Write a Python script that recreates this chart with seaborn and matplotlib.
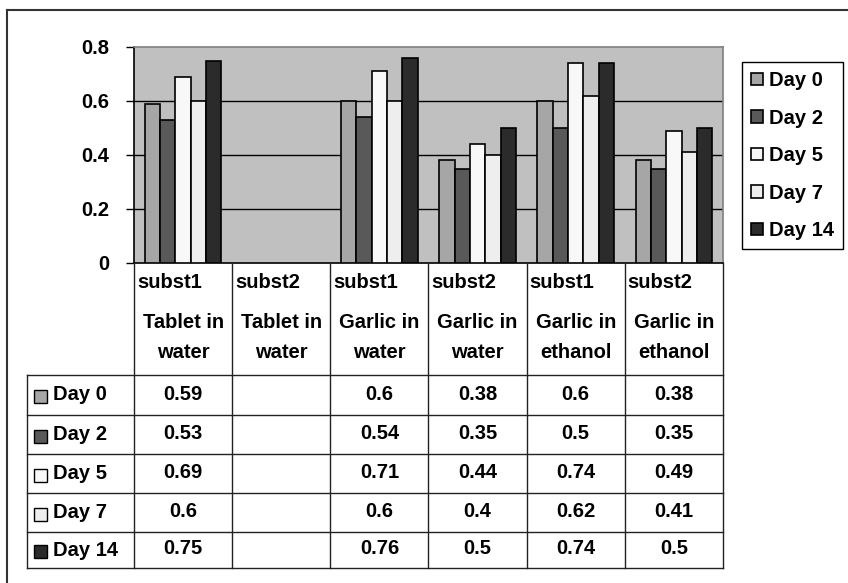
import numpy as np
import pandas as pd
import matplotlib
matplotlib.use("Agg")
import matplotlib.pyplot as plt
import seaborn as sns
from matplotlib.transforms import blended_transform_factory
from matplotlib.lines import Line2D
from matplotlib.patches import Rectangle

# ---- data ----
substances = ["subst1", "subst2", "subst1", "subst2", "subst1", "subst2"]
preparations = ["Tablet in\nwater", "Tablet in\nwater", "Garlic in\nwater",
                "Garlic in\nwater", "Garlic in\nethanol", "Garlic in\nethanol"]
days = ["Day 0", "Day 2", "Day 5", "Day 7", "Day 14"]
day0 = [0.59, np.nan, 0.6, 0.38, 0.6, 0.38]
day2 = [0.53, np.nan, 0.54, 0.35, 0.5, 0.35]
day5 = [0.69, np.nan, 0.71, 0.44, 0.74, 0.49]
day7 = [0.6, np.nan, 0.6, 0.4, 0.62, 0.41]
day14 = [0.75, np.nan, 0.76, 0.5, 0.74, 0.5]
day_colors = ["#A6A6A6", "#595959", "#F8F8F8", "#EEEEEE", "#2B2B2B"]
yticks = [0, 0.2, 0.4, 0.6, 0.8]
ytick_labels = ["0", "0.2", "0.4", "0.6", "0.8"]

series = [day0, day2, day5, day7, day14]
cats = [f"{s}|{p}" for s, p in zip(substances, preparations)]
rows = []
for d, vals in zip(days, series):
    for c, v in zip(cats, vals):
        rows.append({"cat": c, "day": d, "value": v})
df = pd.DataFrame(rows)
df_plot = df.dropna()

# ---- figure ----
W, H = 848, 583
FS = 14.5
FONT = "Liberation Sans"
plt.rcParams["font.family"] = [FONT, "DejaVu Sans"]

fig = plt.figure(figsize=(W / 100, H / 100), dpi=100)
fig.patch.set_facecolor("white")

def fx(px):
    return px / W

def fy(py):
    return 1 - py / H

ax_left, ax_right, ax_top, ax_bottom = 134, 723, 47, 263
ax = fig.add_axes([fx(ax_left), fy(ax_bottom), fx(ax_right - ax_left),
                   (ax_bottom - ax_top) / H])
ax.set_facecolor("#C0C0C0")

sns.barplot(data=df_plot, x="cat", y="value", hue="day", order=cats,
            hue_order=days, palette=day_colors, saturation=1, width=0.78,
            edgecolor="black", linewidth=1.2, ax=ax, zorder=3)

ax.set_ylim(0, 0.8)
ax.set_xlim(-0.5, len(cats) - 0.5)
ax.set_yticks(yticks)
ax.set_yticklabels(ytick_labels, fontsize=FS, fontweight="bold")
ax.tick_params(axis="y", direction="out", length=6, width=1, pad=12, color="black")
ax.tick_params(axis="x", length=0, labelbottom=False)
ax.set_xlabel("")
ax.set_ylabel("")
for y in yticks[1:-1]:
    ax.axhline(y, color="black", lw=1, zorder=1)
ax.spines["left"].set_color("black")
ax.spines["bottom"].set_color("black")
ax.spines["top"].set_color("#808080")
ax.spines["right"].set_color("#808080")
for s in ax.spines.values():
    s.set_linewidth(1.2)

# ---- legend ----
handles, labels = ax.get_legend_handles_labels()
ax.legend(handles, labels, loc="upper left",
          bbox_to_anchor=(fx(742), fy(62)), bbox_transform=fig.transFigure,
          frameon=True, fancybox=False, edgecolor="black", framealpha=1,
          prop={"family": FONT, "weight": "bold", "size": FS},
          handlelength=0.6, handleheight=0.6, handletextpad=0.3,
          labelspacing=0.92, borderpad=0.45, borderaxespad=0)
leg = ax.get_legend()
leg.get_frame().set_linewidth(1)

# ---- data table under the chart ----
tr = blended_transform_factory(ax.transData, fig.transFigure)
line_kw = dict(color="#222222", lw=1, transform=fig.transFigure, clip_on=False)
table_bottom = 568
row_lines = [375, 415, 454, 493, 532, 568]

n = len(cats)
for i in range(n + 1):
    xd = i - 0.5
    xp = ax.transData.transform((xd, 0))[0]
    fig.add_artist(Line2D([xp / W, xp / W], [fy(ax_bottom), fy(table_bottom)], **line_kw))
for r in row_lines:
    fig.add_artist(Line2D([fx(27), fx(ax_right)], [fy(r), fy(r)], **line_kw))
fig.add_artist(Line2D([fx(27), fx(27)], [fy(row_lines[0]), fy(table_bottom)], **line_kw))

txt_kw = dict(fontsize=FS, fontweight="bold", family=FONT, color="black")
for i, (s, p) in enumerate(zip(substances, preparations)):
    ax.text(i - 0.5 + 0.03, fy(282), s, transform=tr, ha="left", va="center", **txt_kw)
    l1, l2 = p.split("\n")
    ax.text(i, fy(322), l1, transform=tr, ha="center", va="center", **txt_kw)
    ax.text(i, fy(353), l2, transform=tr, ha="center", va="center", **txt_kw)

for r, (d, vals, col) in enumerate(zip(days, series, day_colors)):
    yc = (row_lines[r] + row_lines[r + 1]) / 2
    fig.add_artist(Rectangle((fx(34), fy(yc + 8)), fx(13), 13 / H,
                             facecolor=col, edgecolor="black", lw=1,
                             transform=fig.transFigure))
    fig.text(fx(53), fy(yc), d, ha="left", va="center", **txt_kw)
    for i, v in enumerate(vals):
        if not np.isnan(v):
            ax.text(i, fy(yc - 1), f"{v:g}", transform=tr, ha="center",
                    va="center", **txt_kw)

# outer frame (top and left edges visible)
fig.add_artist(Line2D([fx(7), 1], [fy(10), fy(10)], color="#333333", lw=1.5,
                      transform=fig.transFigure))
fig.add_artist(Line2D([fx(7), fx(7)], [fy(10), 0], color="#333333", lw=1.5,
                      transform=fig.transFigure))

fig.savefig("out.png", dpi=100, facecolor="white")
